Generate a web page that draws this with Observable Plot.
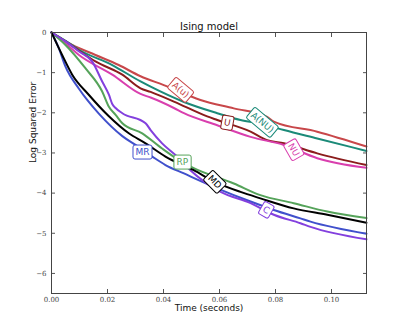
<!DOCTYPE html>
<html>
<head>
<meta charset="utf-8">
<script src="https://cdn.jsdelivr.net/npm/d3@7"></script>
<script src="https://cdn.jsdelivr.net/npm/@observablehq/plot@0.6"></script>
<style>
  html, body { margin: 0; padding: 0; background: #fff; }
  #chart svg { display: block; }
</style>
</head>
<body>
<div id="chart"></div>
<script>
// ---- data ----
const seriesNames = ["A(u)", "A(NU)", "U", "NU", "MR", "RP", "MD", "C"];
const seriesColors = ["#c8474a", "#1b8a78", "#8b1c1c", "#d93fae", "#4050cc", "#55a35a", "#000000", "#8340de"];

const tAu  = [0, 0.0074, 0.0157, 0.024, 0.0318, 0.0401, 0.0532, 0.0651, 0.077, 0.0794, 0.0949, 0.1125];
const yAu  = [0, -0.31, -0.56, -0.81, -1.09, -1.31, -1.68, -1.89, -2.10, -2.22, -2.47, -2.84];

const tANU = [0, 0.0049, 0.0098, 0.0217, 0.0318, 0.0354, 0.0473, 0.0592, 0.0675, 0.0753, 0.083, 0.0949, 0.1125];
const yANU = [0, -0.2, -0.43, -0.81, -1.22, -1.35, -1.73, -2.01, -2.18, -2.28, -2.43, -2.64, -2.95];

const tU   = [0, 0.005, 0.01, 0.0157, 0.0253, 0.0318, 0.0354, 0.0437, 0.0556, 0.0592, 0.0711, 0.077, 0.083, 0.0949, 0.1125];
const yU   = [0, -0.22, -0.46, -0.72, -1.05, -1.39, -1.48, -1.72, -2.09, -2.18, -2.47, -2.68, -2.76, -3.01, -3.30];

const tNU  = [0, 0.0049, 0.0098, 0.0217, 0.0318, 0.0354, 0.0437, 0.0473, 0.0592, 0.0711, 0.083, 0.0949, 0.1125];
const yNU  = [0, -0.27, -0.56, -1.05, -1.53, -1.62, -1.88, -2.01, -2.31, -2.60, -2.80, -3.13, -3.37];

const tMR  = [0, 0.0026, 0.005, 0.0098, 0.01275, 0.0169, 0.0253, 0.03, 0.036, 0.0407, 0.0473, 0.0592, 0.0711, 0.0794, 0.0889, 0.0925, 0.1125];
const yMR  = [0, -0.39, -0.85, -1.40, -1.68, -2.02, -2.58, -2.80, -3.09, -3.30, -3.51, -3.88, -4.21, -4.42, -4.63, -4.71, -5.01];

const tRP  = [0, 0.005, 0.0121, 0.0181, 0.0205, 0.0229, 0.0253, 0.0324, 0.0395, 0.0467, 0.0508, 0.0651, 0.0746, 0.0865, 0.0985, 0.1125];
const yRP  = [0, -0.31, -0.89, -1.47, -1.85, -2.05, -2.26, -2.51, -2.89, -3.23, -3.38, -3.76, -4.05, -4.25, -4.46, -4.62];

const tMD  = [0, 0.0038, 0.0074, 0.0133, 0.0204, 0.0276, 0.0336, 0.0407, 0.0508, 0.0583, 0.0675, 0.0746, 0.0865, 0.0985, 0.1125];
const yMD  = [0, -0.56, -1.05, -1.55, -2.08, -2.51, -2.76, -3.09, -3.43, -3.72, -3.97, -4.13, -4.38, -4.54, -4.74];

const tC   = [0, 0.005, 0.01, 0.0145, 0.0181, 0.0205, 0.0217, 0.0229, 0.0253, 0.0336, 0.0354, 0.0395, 0.0449, 0.0496, 0.0604, 0.0711, 0.0794, 0.0889, 0.0925, 0.1125];
const yC   = [0, -0.22, -0.48, -0.72, -1.22, -1.55, -1.78, -1.88, -2.01, -2.26, -2.43, -2.76, -3.09, -3.43, -3.97, -4.25, -4.54, -4.75, -4.84, -5.15];

// inline labels (data coordinates)
const labelX = [0.0461, 0.0753, 0.0628, 0.0865, 0.0325, 0.0467, 0.0583, 0.0767];
const labelY = [-1.43, -2.24, -2.25, -2.92, -2.98, -3.23, -3.72, -4.42];
const labelRotate = [40, 40, 10, 60, 0, 0, 45, 30];

const xTicks = [0, 0.02, 0.04, 0.06, 0.08, 0.10];
const yTicks = [-6, -5, -4, -3, -2, -1, 0];

const titleText = "Ising model";
const xLabel = "Time (seconds)";
const yLabel = "Log Squared Error";

// ---- build table ----
const seriesT = [tAu, tANU, tU, tNU, tMR, tRP, tMD, tC];
const seriesY = [yAu, yANU, yU, yNU, yMR, yRP, yMD, yC];
const rows = [];
seriesNames.forEach((name, i) => {
  seriesT[i].forEach((t, j) => rows.push({series: name, t, v: seriesY[i][j]}));
});
const labels = seriesNames.map((name, i) => ({series: name, t: labelX[i], v: labelY[i], r: labelRotate[i]}));
const drawOrder = ["A(u)", "A(NU)", "U", "NU", "MR", "RP", "C", "MD"];

const tickFont = "DejaVu Serif, Liberation Serif, serif";
const sans = "DejaVu Sans, sans-serif";

const chart = Plot.plot({
  width: 407,
  height: 326,
  marginLeft: 51,
  marginRight: 41,
  marginTop: 32,
  marginBottom: 33,
  style: {background: "#fff", fontFamily: sans},
  x: {domain: [0, 0.1125]},
  y: {domain: [-6.5, 0]},
  color: {domain: seriesNames, range: seriesColors},
  marks: [
    // inward ticks on all four sides
    Plot.axisX(xTicks, {anchor: "bottom", tickSize: -4, text: null, label: null, stroke: "#555"}),
    Plot.axisX(xTicks, {anchor: "top", tickSize: -4, text: null, label: null, stroke: "#555"}),
    Plot.axisY(yTicks, {anchor: "left", tickSize: -4, text: null, label: null, stroke: "#555"}),
    Plot.axisY(yTicks, {anchor: "right", tickSize: -4, text: null, label: null, stroke: "#555"}),
    // tick labels
    Plot.axisX(xTicks, {anchor: "bottom", tickSize: 0, tickPadding: 4, tickFormat: d3.format(".2f"),
      fontFamily: tickFont, fontSize: 7, fill: "#444", label: null}),
    Plot.axisY(yTicks, {anchor: "left", tickSize: 0, tickPadding: 5, tickFormat: d => d === 0 ? "0" : "\u2212" + Math.abs(d),
      fontFamily: tickFont, fontSize: 7, fill: "#444", label: null}),
    // series lines
    ...drawOrder.map(name => Plot.line(rows.filter(d => d.series === name), {
      x: "t", y: "v", stroke: "series", strokeWidth: 2, strokeLinejoin: "round", curve: "monotone-x"
    })),
    Plot.frame({stroke: "#444", strokeWidth: 1}),
    // inline labels
    Plot.text(labels, {x: "t", y: "v", text: "series", fill: "series", rotate: "r",
      fontSize: 9, fontFamily: sans, className: "lbl"}),
    // title and axis labels
    Plot.text([titleText], {frameAnchor: "top", dy: -3, lineAnchor: "bottom", fontSize: 10, fill: "#111", fontFamily: sans}),
    Plot.text([xLabel], {frameAnchor: "bottom", dy: 15, lineAnchor: "middle", fontSize: 9, fill: "#111", fontFamily: sans}),
    Plot.text([yLabel], {frameAnchor: "left", dx: -18, rotate: -90, fontSize: 9, fill: "#111", fontFamily: sans})
  ]
});

document.getElementById("chart").appendChild(chart);

// white rounded boxes behind the inline labels
const ns = "http://www.w3.org/2000/svg";
chart.querySelectorAll("g.lbl text").forEach(t => {
  const bb = t.getBBox();
  const pad = 2.5;
  const rect = document.createElementNS(ns, "rect");
  rect.setAttribute("x", bb.x - pad);
  rect.setAttribute("y", bb.y - pad + 0.5);
  rect.setAttribute("width", bb.width + 2 * pad);
  rect.setAttribute("height", bb.height + 2 * pad - 1);
  rect.setAttribute("rx", 2);
  rect.setAttribute("fill", "#fff");
  rect.setAttribute("stroke", t.getAttribute("fill"));
  rect.setAttribute("stroke-width", 1);
  const tr = t.getAttribute("transform");
  if (tr) rect.setAttribute("transform", tr);
  t.parentNode.insertBefore(rect, t);
});
</script>
</body>
</html>
